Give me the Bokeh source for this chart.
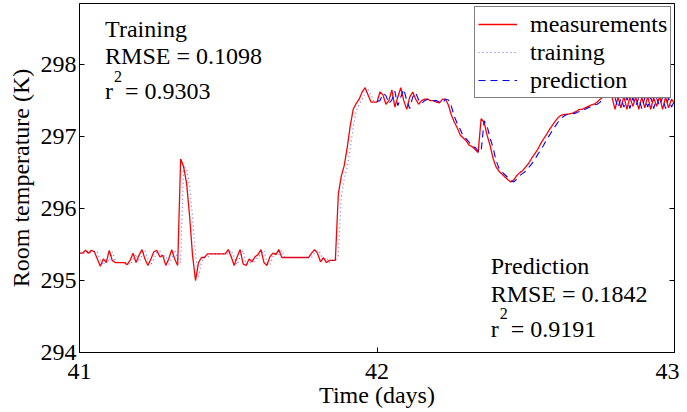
import numpy as np
from bokeh.plotting import figure
from bokeh.models import Range1d, FixedTicker, LinearAxis, Legend, LegendItem, Label, ColumnDataSource
from bokeh.embed import file_html
from bokeh.resources import INLINE

# ---- data ----
t_start = 41.0
t_step = 0.01  # days between samples

measurements = [
    295.38, 295.38, 295.42, 295.38, 295.42, 295.40, 295.30, 295.20, 295.30, 295.25,
    295.42, 295.28, 295.25, 295.25, 295.25, 295.25, 295.22, 295.28, 295.38, 295.25,
    295.35, 295.43, 295.30, 295.21, 295.30, 295.40, 295.42, 295.33, 295.35, 295.21,
    295.30, 295.43, 295.30, 295.21, 296.69, 296.58, 296.35, 295.90, 295.35, 295.00,
    295.25, 295.32, 295.32, 295.37, 295.37, 295.37, 295.37, 295.37, 295.37, 295.37,
    295.43, 295.33, 295.21, 295.33, 295.43, 295.23, 295.21, 295.30, 295.26, 295.33,
    295.36, 295.43, 295.25, 295.21, 295.33, 295.38, 295.36, 295.43, 295.32, 295.32,
    295.32, 295.32, 295.32, 295.32, 295.32, 295.32, 295.32, 295.32, 295.38, 295.43,
    295.38, 295.26, 295.32, 295.25, 295.28, 295.28, 295.28, 296.20, 296.45, 296.60,
    296.85, 297.15, 297.38, 297.46, 297.52, 297.62, 297.68, 297.58, 297.48, 297.48,
    297.48, 297.62, 297.58, 297.45, 297.50, 297.65, 297.41, 297.55, 297.68, 297.50,
    297.38, 297.55, 297.62, 297.52, 297.45, 297.50, 297.52, 297.52, 297.50, 297.50,
    297.48, 297.47, 297.52, 297.52, 297.44, 297.30, 297.20, 297.12, 297.02, 296.98,
    296.94, 296.88, 296.86, 296.82, 296.78, 297.25, 297.20, 297.02, 296.88, 296.70,
    296.58, 296.52, 296.48, 296.44, 296.40, 296.37, 296.40, 296.46, 296.50, 296.53,
    296.58, 296.63, 296.70, 296.76, 296.82, 296.90, 296.97, 297.03, 297.10, 297.16,
    297.22, 297.27, 297.30, 297.31, 297.31, 297.32, 297.33, 297.35, 297.38, 297.38,
    297.40, 297.42, 297.44, 297.45, 297.48, 297.52, 297.55, 297.57, 297.58, 297.55,
    297.38, 297.55, 297.40, 297.56, 297.38, 297.55, 297.42, 297.55, 297.38, 297.55,
    297.40, 297.56, 297.38, 297.54, 297.42, 297.56, 297.38, 297.55, 297.40, 297.52,
    297.46,
]

training = [
    295.38, 295.38, 295.38, 295.41, 295.38, 295.41, 295.39, 295.29, 295.21, 295.30,
    295.26, 295.40, 295.28, 295.25, 295.25, 295.25, 295.25, 295.22, 295.28, 295.37,
    295.26, 295.35, 295.42, 295.30, 295.22, 295.30, 295.39, 295.41, 295.33, 295.35,
    295.22, 295.30, 295.42, 295.30, 295.25, 296.60, 296.55, 296.33, 295.88, 295.36,
    295.05, 295.25, 295.32, 295.32, 295.37, 295.37, 295.37, 295.37, 295.37, 295.37,
    295.37, 295.42, 295.33, 295.22, 295.33, 295.42, 295.24, 295.22, 295.30, 295.26,
    295.33, 295.36, 295.42, 295.25, 295.22, 295.33, 295.38, 295.36, 295.42, 295.32,
    295.32, 295.32, 295.32, 295.32, 295.32, 295.32, 295.32, 295.32, 295.32, 295.38,
    295.42, 295.38, 295.27, 295.32, 295.25, 295.28, 295.28, 295.35, 296.15, 296.42,
    296.58, 296.83, 297.13, 297.36, 297.45, 297.52, 297.60, 297.66, 297.58, 297.49,
    297.48,
]

prediction = [
    297.49, 297.50, 297.60, 297.57, 297.46, 297.51, 297.63, 297.43, 297.55, 297.66,
    297.50, 297.39, 297.55, 297.61, 297.51, 297.46, 297.50, 297.52, 297.52, 297.50,
    297.50, 297.48, 297.47, 297.52, 297.51, 297.42, 297.28, 297.18, 297.10, 297.00,
    296.97, 296.92, 296.87, 296.85, 296.80, 296.79, 297.22, 297.15, 296.98, 296.85,
    296.67, 296.56, 296.51, 296.47, 296.43, 296.39, 296.37, 296.41, 296.46, 296.49,
    296.52, 296.57, 296.62, 296.68, 296.75, 296.81, 296.88, 296.96, 297.02, 297.09,
    297.15, 297.21, 297.26, 297.29, 297.31, 297.31, 297.32, 297.33, 297.35, 297.37,
    297.38, 297.40, 297.42, 297.44, 297.45, 297.48, 297.52, 297.55, 297.57, 297.57,
    297.54, 297.40, 297.53, 297.41, 297.55, 297.39, 297.54, 297.43, 297.54, 297.39,
    297.54, 297.41, 297.55, 297.39, 297.53, 297.43, 297.55, 297.39, 297.54, 297.41,
    297.50,
]

x_ticks = [41, 42, 43]
y_ticks = [294, 295, 296, 297, 298]

training_stats = ["Training", "RMSE = 0.1098", "0.9303"]
prediction_stats = ["Prediction", "RMSE = 0.1842", "0.9191"]

# ---- derived time axes ----
t_meas = np.round(t_start + t_step * np.arange(len(measurements)), 2)
t_train = t_meas[:len(training)]
t_pred = t_meas[len(training) - 1:len(training) - 1 + len(prediction)]

FONT = "'Liberation Serif', 'Times New Roman', serif"
FS = "24px"

p = figure(width=679, height=412, output_backend="svg", toolbar_location=None,
           x_range=Range1d(41, 43), y_range=Range1d(294, 298.85),
           min_border_left=79, min_border_right=5, min_border_top=3, min_border_bottom=60)
p.xgrid.visible = False
p.ygrid.visible = False
p.background_fill_color = "white"
p.border_fill_color = "white"
p.outline_line_color = "black"
p.outline_line_width = 1

for ax, ticks in ((p.xaxis[0], x_ticks), (p.yaxis[0], y_ticks)):
    ax.ticker = FixedTicker(ticks=ticks)
    ax.minor_tick_line_color = None
    ax.major_tick_in = 5
    ax.major_tick_out = 0
    ax.axis_line_color = "black"
    ax.major_tick_line_color = "black"
    ax.major_label_text_font = FONT
    ax.major_label_text_font_size = FS
    ax.major_label_text_color = "black"
    ax.axis_label_text_font = FONT
    ax.axis_label_text_font_size = FS
    ax.axis_label_text_font_style = "normal"
    ax.axis_label_text_color = "black"

p.xaxis.axis_label = "Time (days)"
p.yaxis.axis_label = "Room temperature (K)"
p.xaxis.major_label_standoff = 11
p.xaxis.axis_label_standoff = 0
p.xaxis.major_label_text_line_height = 0.9
p.xaxis.axis_label_text_line_height = 0.9
p.yaxis.major_label_standoff = 3
p.yaxis.axis_label_standoff = 4

rax = LinearAxis(ticker=FixedTicker(ticks=y_ticks),
                 major_label_overrides={t: "" for t in y_ticks},
                 major_tick_in=5, major_tick_out=0, minor_tick_line_color=None,
                 major_label_standoff=0, axis_line_color="black")
p.add_layout(rax, "right")

src_m = ColumnDataSource(dict(t=t_meas, v=measurements))
src_t = ColumnDataSource(dict(t=t_train, v=training))
src_p = ColumnDataSource(dict(t=t_pred, v=prediction))

r_m = p.line("t", "v", source=src_m, line_color="#ff0000", line_width=1.3)
r_t = p.line("t", "v", source=src_t, line_color="#0000ff", line_width=1.1, line_dash="1 3", line_alpha=0.6)
r_p = p.line("t", "v", source=src_p, line_color="#0000ff", line_width=1.1, line_dash="7 5")

legend = Legend(items=[LegendItem(label="measurements", renderers=[r_m]),
                       LegendItem(label="training", renderers=[r_t]),
                       LegendItem(label="prediction", renderers=[r_p])],
                location=(395, 254))
legend.padding = 3
legend.spacing = 0
legend.margin = 0
legend.label_height = 28
legend.glyph_height = 28
legend.glyph_width = 39
legend.label_standoff = 13
legend.label_text_font = FONT
legend.label_text_font_size = FS
legend.label_text_line_height = 1.05
legend.label_text_color = "black"
legend.border_line_color = "black"
legend.border_line_width = 1
legend.background_fill_alpha = 1
p.add_layout(legend, "center")


def stats_block(x, y1, y2, y3, y_sup, lines):
    kw = dict(text_font=FONT, text_font_size=FS, text_color="black", text_baseline="alphabetic")
    p.add_layout(Label(x=x, y=y1, text=lines[0], **kw))
    p.add_layout(Label(x=x, y=y2, text=lines[1], **kw))
    p.add_layout(Label(x=x, y=y3, text="r", **kw))
    p.add_layout(Label(x=x, y=y_sup, text="2", x_offset=9, text_font=FONT, text_font_size="16px",
                       text_color="black", text_baseline="alphabetic"))
    p.add_layout(Label(x=x, y=y3, text="= " + lines[2], x_offset=20, **kw))


stats_block(41.086, 298.497, 298.126, 297.629, 297.835, training_stats)
stats_block(42.382, 295.196, 294.809, 294.332, 294.54, prediction_stats)

open("out.html", "w").write(file_html(p, INLINE))
